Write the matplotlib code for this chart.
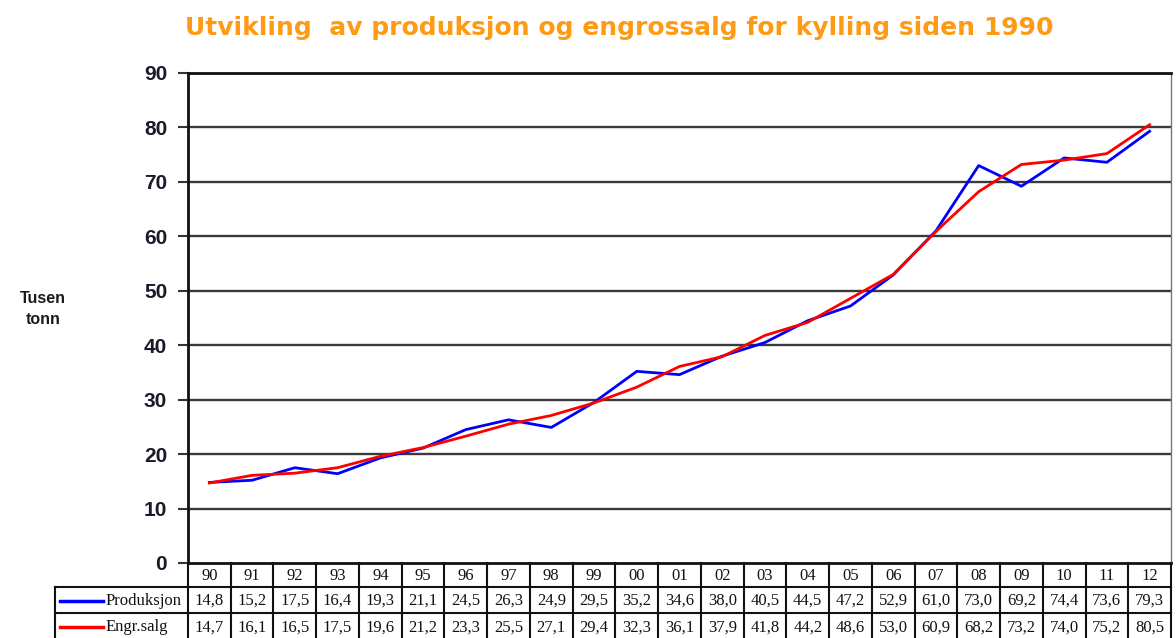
import matplotlib.pyplot as plt

years = ['90', '91', '92', '93', '94', '95', '96', '97', '98', '99', '00',
         '01', '02', '03', '04', '05', '06', '07', '08', '09', '10', '11', '12']
produksjon = [14.8, 15.2, 17.5, 16.4, 19.3, 21.1, 24.5, 26.3, 24.9, 29.5, 35.2,
              34.6, 38.0, 40.5, 44.5, 47.2, 52.9, 61.0, 73.0, 69.2, 74.4, 73.6, 79.3]
engrossalg = [14.7, 16.1, 16.5, 17.5, 19.6, 21.2, 23.3, 25.5, 27.1, 29.4, 32.3,
              36.1, 37.9, 41.8, 44.2, 48.6, 53.0, 60.9, 68.2, 73.2, 74.0, 75.2, 80.5]
series_names = ['Produksjon', 'Engr.salg']
series_colors = ['#0000ff', '#ff0000']
yticks = list(range(0, 91, 10))

W, H = 1176, 638
fig = plt.figure(figsize=(W / 100, H / 100), dpi=100)


def box(l, t, r, b):
    # pixel box -> figure fraction rect
    return [l / W, 1 - b / H, (r - l) / W, (b - t) / H]


sans = ['Liberation Sans', 'DejaVu Sans']
serif = ['Liberation Serif', 'DejaVu Serif']

ax = fig.add_axes(box(188, 73, 1171, 563))
xs = list(range(len(years)))
for vals, col in zip([produksjon, engrossalg], series_colors):
    ax.plot(xs, vals, color=col, lw=2.0, zorder=3)

ax.set_xlim(-0.5, len(years) - 0.5)
ax.set_ylim(0, 90)
ax.set_yticks(yticks)
ax.set_yticklabels([str(t) for t in yticks], fontfamily=sans, fontweight='bold',
                   fontsize=15, color='#1a1a2a')
ax.set_xticks([])
ax.tick_params(axis='y', length=7, width=1.5, color='#333333', pad=8)
for t in yticks[1:]:
    ax.axhline(t, color='#3a3a3a', lw=1.7, zorder=1)
for side in ['left', 'bottom', 'top']:
    ax.spines[side].set_color('#111111')
    ax.spines[side].set_linewidth(2)
ax.spines['right'].set_color('#777777')
ax.spines['right'].set_linewidth(1)

fig.text(43 / W, 1 - 309 / H, 'Tusen\ntonn', ha='center', va='center',
         fontfamily=sans, fontweight='bold', fontsize=11.5, color='#1a1a1a',
         linespacing=1.45)

fig.text(619 / W, 1 - 28 / H,
         'Utvikling  av produksjon og engrossalg for kylling siden 1990',
         ha='center', va='center', fontfamily='DejaVu Sans', fontweight='bold',
         fontsize=18, color='#ff9a14')

# data table under the plot
tx = fig.add_axes(box(188, 563, 1171, 640))
tx.set_xlim(-0.5, len(years) - 0.5)
tx.set_ylim(640, 563)
tx.axis('off')
cw = (1171 - 188) / len(years)


def px2x(px):
    return -0.5 + (px - 188) / cw


rows = [563, 587, 613, 640]
left = px2x(55)
lk = dict(color='#111111', lw=1.5, clip_on=False)
for i in range(len(years) + 1):
    tx.plot([i - 0.5, i - 0.5], [rows[0], rows[-1]], **lk)
tx.plot([left, len(years) - 0.5], [rows[1], rows[1]], **lk)
tx.plot([left, len(years) - 0.5], [rows[2], rows[2]], **lk)
tx.plot([left, left], [rows[1], rows[-1]], **lk)

for i, yr in enumerate(years):
    tx.text(i, (rows[0] + rows[1]) / 2 + 1, yr, ha='center', va='center',
            fontfamily=serif, fontsize=12, color='#111111')

for r, (name, col, vals) in enumerate(zip(series_names, series_colors,
                                          [produksjon, engrossalg])):
    yc = (rows[r + 1] + rows[r + 2]) / 2 + 1
    tx.plot([px2x(60), px2x(103)], [yc, yc], color=col, lw=2.5, clip_on=False)
    tx.text(px2x(106), yc, name, ha='left', va='center', fontfamily=serif,
            fontsize=12, color='#111111', clip_on=False)
    for i, v in enumerate(vals):
        tx.text(i, yc, f'{v:.1f}'.replace('.', ','), ha='center', va='center',
                fontfamily=serif, fontsize=12, color='#111111')

fig.savefig('out.png', dpi=100)
